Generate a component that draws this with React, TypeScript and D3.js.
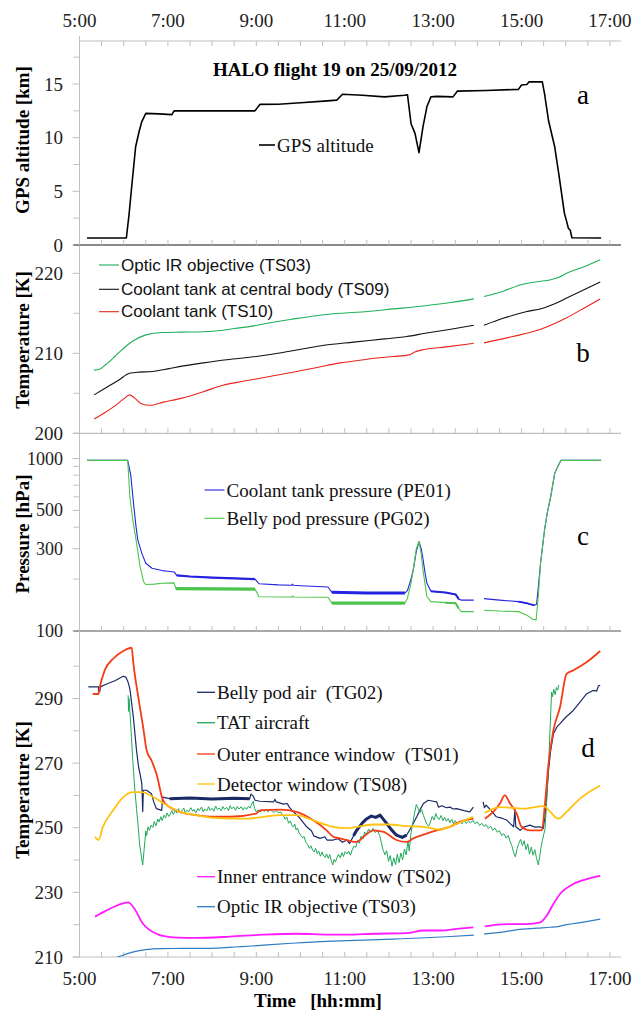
import React from "react";
import * as d3 from "d3";

type Pt = [number, number | null];

// ---------- tick labels ----------
const timeTickHours = [5, 7, 9, 11, 13, 15, 17];
const timeTickLabels = ["5:00", "7:00", "9:00", "11:00", "13:00", "15:00", "17:00"];
const altTicks = [0, 5, 10, 15];
const altMinor = [2.5, 7.5, 12.5, 17.5];
const tempBTicks = [200, 210, 220];
const tempBMinor = [205, 215];
const presTicks = [100, 300, 500, 1000];
const presMinor = [200, 400, 600, 700, 800, 900];
const tempDTicks = [210, 230, 250, 270, 290];
const tempDMinor = [220, 240, 260, 280, 300];

// ---------- panel a: GPS altitude [km] ----------
const gpsAltitude: Pt[] = [
  [5.17, 0.65], [6.06, 0.65], [6.12, 2.8], [6.18, 5.4], [6.27, 9.15], [6.35, 10.6], [6.41, 11.5], [6.5, 12.26],
  [6.8, 12.22], [7.09, 12.15], [7.14, 12.5], [8.97, 12.5], [9.08, 13.1], [9.5, 13.12], [10.0, 13.25],
  [10.53, 13.4], [10.82, 13.5], [10.95, 14.05], [11.4, 13.95], [11.9, 13.8], [12.35, 13.95], [12.42, 14.0],
  [12.5, 11.3], [12.59, 10.4], [12.68, 8.6], [12.77, 11.0], [12.86, 12.9], [12.95, 13.8], [13.09, 13.85],
  [13.45, 13.8], [13.55, 14.34], [14.2, 14.4], [14.93, 14.5], [15.0, 14.9], [15.12, 14.95], [15.17, 15.2],
  [15.47, 15.2], [15.52, 14.1], [15.61, 11.6], [15.75, 9.15], [15.84, 6.7], [15.97, 2.95], [16.02, 2.2],
  [16.06, 1.55], [16.1, 1.4], [16.14, 0.68], [16.8, 0.65],
];

// ---------- panel b / d: TS03, TS09, TS10 [K] ----------
const ts03: Pt[] = [
  [5.33, 207.9], [5.45, 208.0], [5.6, 208.6], [5.8, 209.6], [5.95, 210.4], [6.2, 211.5], [6.5, 212.3],
  [6.87, 212.6], [7.3, 212.65], [7.78, 212.7], [8.2, 212.85], [8.51, 213.1], [8.9, 213.4], [9.25, 213.75],
  [9.8, 214.25], [10.35, 214.7], [10.9, 215.0], [11.44, 215.2], [12.1, 215.55], [12.82, 215.95], [13.4, 216.35],
  [13.92, 216.8], [13.95, null], [14.15, 217.1], [14.6, 217.8], [15.01, 218.6], [15.35, 218.95], [15.66, 219.2],
  [15.85, 219.5], [16.02, 220.0], [16.4, 220.8], [16.78, 221.7],
];
const ts09: Pt[] = [
  [5.33, 204.8], [5.6, 205.7], [5.9, 206.7], [6.13, 207.5], [6.35, 207.65], [6.59, 207.7], [7.0, 208.05],
  [7.32, 208.4], [7.8, 208.8], [8.33, 209.2], [9.0, 209.6], [9.6, 210.1], [10.1, 210.6], [10.53, 211.0],
  [11.2, 211.4], [11.9, 211.8], [12.4, 212.1], [12.82, 212.5], [13.4, 213.0], [13.92, 213.5], [13.95, null],
  [14.15, 213.5], [14.6, 214.4], [15.1, 215.2], [15.46, 215.6], [15.75, 216.2], [16.02, 216.9], [16.4, 217.9],
  [16.78, 218.9],
];
const ts10: Pt[] = [
  [5.33, 201.8], [5.55, 202.5], [5.77, 203.3], [6.0, 204.3], [6.13, 204.8], [6.25, 204.4], [6.4, 203.7],
  [6.59, 203.5], [6.9, 203.9], [7.32, 204.4], [7.8, 205.2], [8.24, 206.0], [8.7, 206.5], [9.15, 206.95],
  [9.8, 207.6], [10.35, 208.2], [10.9, 208.8], [11.5, 209.25], [12.1, 209.6], [12.45, 209.8], [12.6, 210.2],
  [12.73, 210.4], [13.3, 210.8], [13.92, 211.25], [13.95, null], [14.15, 211.3], [14.8, 212.1], [15.38, 212.9],
  [15.7, 213.6], [16.02, 214.45], [16.4, 215.6], [16.78, 216.8],
];

// ---------- panel c: pressure [hPa] ----------
const pe01: Pt[] = [
  [5.17, 975], [6.09, 975], [6.16, 800], [6.23, 526], [6.28, 400], [6.32, 336], [6.41, 282], [6.5, 247],
  [6.64, 231], [6.87, 224], [7.0, 222], [7.14, 220], [7.2, 210], [7.5, 207], [8.0, 204], [8.5, 202], [8.97, 200],
  [9.06, 188], [9.5, 185], [9.8, 184], [9.82, 187], [9.84, 184], [10.0, 183], [10.62, 180], [10.71, 167.5],
  [11.5, 166], [12.36, 166], [12.42, 172],
  [12.5, 200], [12.55, 226], [12.62, 290], [12.68, 330], [12.73, 300], [12.77, 262], [12.82, 215], [12.86, 189],
  [12.95, 170], [13.28, 167], [13.51, 163], [13.58, 153], [13.64, 151], [13.92, 151], [13.95, null], [14.15, 154],
  [14.5, 151], [14.93, 148], [15.11, 145], [15.29, 141], [15.34, 143], [15.38, 180], [15.43, 247], [15.52, 385],
  [15.58, 480], [15.66, 601], [15.75, 820], [15.82, 900], [15.89, 975], [16.8, 975],
];
const pg02: Pt[] = [
  [5.17, 975], [6.09, 975], [6.14, 601], [6.2, 450], [6.28, 336], [6.37, 237], [6.45, 193], [6.5, 186],
  [6.69, 187], [6.87, 189], [7.14, 190], [7.18, 176], [8.97, 175], [9.06, 158], [9.8, 157.5], [9.82, 160],
  [9.84, 157.5], [10.62, 157], [10.71, 145],
  [12.36, 145], [12.42, 155], [12.5, 190], [12.55, 226], [12.62, 300], [12.68, 330], [12.73, 280], [12.77, 226],
  [12.82, 185], [12.86, 158], [12.95, 148], [13.28, 146], [13.51, 145], [13.58, 135], [13.64, 129.5],
  [13.92, 129.5], [13.95, null], [14.15, 132], [14.5, 130.5], [14.93, 129.5], [15.11, 124], [15.25, 117],
  [15.33, 116], [15.38, 160], [15.43, 247], [15.52, 385], [15.58, 480], [15.66, 601], [15.75, 820], [15.82, 900],
  [15.89, 975], [16.8, 975],
];

// ---------- panel d: temperatures [K] ----------
const tg02: Pt[] = [
  [5.2, 293.6], [5.43, 293.6], [5.43, 292.2], [5.46, 292.2], [5.47, 293.6], [5.6, 294.4], [5.8, 295.5],
  [5.99, 296.9], [6.05, 296.6], [6.1, 295], [6.14, 293], [6.18, 288.5], [6.22, 284], [6.29, 273.9], [6.34, 268.5],
  [6.37, 266.7], [6.41, 263.6], [6.43, 255], [6.445, 261.6], [6.52, 261.6], [6.58, 261], [6.63, 260.5],
  [6.68, 258], [6.74, 255.9], [6.86, 255.4], [6.88, 259.5], [7.04, 259], [7.5, 259.2], [8.0, 258.9],
  [8.5, 259.1], [8.85, 259], [8.88, 260.4], [8.93, 259.8], [8.97, 258.5], [9.08, 258.2], [9.39, 258],
  [9.42, 258.8], [9.45, 258], [9.61, 257.3], [9.7, 257.5], [9.75, 256.3], [9.84, 254.9], [9.95, 253.5],
  [10.05, 251.8], [10.14, 250.3], [10.25, 249], [10.3, 247.5], [10.44, 246.7], [10.55, 247.2], [10.6, 246.2],
  [10.74, 246.2], [10.85, 246.6], [10.95, 245.5], [11.05, 246.2], [11.11, 245.1], [11.2, 247.5], [11.27, 249.2],
  [11.4, 251.5], [11.5, 252.8], [11.6, 253.6], [11.7, 253.2], [11.8, 253.9], [11.88, 252.5], [11.95, 251.3],
  [12.05, 249.5], [12.17, 247.7], [12.3, 247], [12.4, 247.7], [12.51, 250.3], [12.63, 253.4], [12.72, 256],
  [12.78, 257.5], [12.89, 258.5], [13.0, 258.2], [13.08, 258], [13.12, 256.4], [13.2, 256.8], [13.3, 256.2],
  [13.38, 256.4], [13.45, 255.8], [13.53, 255.9], [13.7, 255.3], [13.83, 254.9], [13.91, 256.4], [13.95, null],
  [14.13, 258], [14.16, 256.2], [14.2, 257], [14.3, 255.5], [14.43, 253.4], [14.55, 253], [14.67, 252.3],
  [14.75, 251.2], [14.82, 250.3], [14.85, 255.5], [14.87, 250.3], [14.97, 249.2], [15.05, 250.2],
  [15.19, 250.8], [15.3, 250.2], [15.42, 250.3], [15.49, 249.7], [15.53, 253.4], [15.57, 260], [15.61, 267.7],
  [15.66, 274], [15.72, 279], [15.8, 281.2], [15.87, 282.2], [16.0, 284.2], [16.17, 286.3], [16.3, 288.5],
  [16.47, 291.4], [16.55, 292], [16.62, 292.5], [16.7, 292.3], [16.74, 293.9], [16.78, 294.1],
];
const tat: Pt[] = [
  [6.1, 291], [6.11, 286], [6.12, 290], [6.15, 284], [6.2, 272], [6.25, 262], [6.29, 256], [6.33, 250],
  [6.36, 245], [6.4, 241], [6.43, 238.5], [6.46, 243], [6.48, 246], [6.5, 249], [6.52, 247.6], [6.55, 250.3],
  [6.58, 249.2], [6.62, 250.8], [6.66, 250.1], [6.69, 251.9], [6.73, 250.6], [6.77, 252.7], [6.8, 251.8],
  [6.84, 253.4], [6.87, 252.2], [6.91, 253.9], [6.95, 253.1], [6.98, 254.6], [7.02, 253.5], [7.05, 254.2],
  [7.09, 255.3], [7.12, 254.1], [7.17, 255.4], [7.2, 254.6], [7.24, 255.9], [7.28, 254.5], [7.31, 255.1],
  [7.36, 256.1], [7.39, 254.7], [7.44, 255.5], [7.47, 254.9], [7.52, 256.2], [7.56, 255.1], [7.59, 255.7],
  [7.63, 254.6], [7.68, 256], [7.71, 255.3], [7.76, 256.4], [7.8, 254.9], [7.83, 255.8], [7.88, 255.2],
  [7.92, 256.5], [7.95, 255.4], [8.0, 256], [8.04, 255.1], [8.08, 256.7], [8.12, 255.6], [8.16, 256.1],
  [8.21, 255.2], [8.24, 256.6], [8.28, 255.7], [8.33, 256.3], [8.37, 255.3], [8.41, 256.8], [8.44, 255.9],
  [8.49, 256.4], [8.53, 255.4], [8.57, 256.6], [8.61, 255.8], [8.66, 256.5], [8.7, 255.5], [8.74, 256.3],
  [8.78, 255.7], [8.82, 256.6], [8.86, 256.1], [8.9, 257.5], [8.93, 258.2], [8.96, 256], [9.0, 254.9],
  [9.04, 255.5], [9.09, 254.8], [9.13, 255.7], [9.18, 255.1], [9.22, 255.6], [9.27, 254.9], [9.31, 255.8],
  [9.36, 255.2], [9.4, 254.7], [9.45, 255.4], [9.5, 254.6], [9.55, 254.9], [9.58, 254.1], [9.62, 253.6],
  [9.65, 252.6], [9.69, 253.3], [9.73, 251.4], [9.77, 252.1], [9.8, 250.9], [9.84, 250.2], [9.87, 251.1],
  [9.9, 249.3], [9.93, 249.9], [9.97, 248.4], [10.01, 247.5], [10.05, 246.9], [10.08, 247.3], [10.12, 245.5],
  [10.16, 244.9], [10.2, 243.6], [10.24, 244.4], [10.27, 243.1], [10.31, 242.5], [10.34, 243.6], [10.38, 242],
  [10.41, 242.8], [10.45, 241.2], [10.49, 242.5], [10.52, 241.3], [10.56, 240.8], [10.59, 241.9],
  [10.63, 240.5], [10.66, 241.7], [10.7, 239.6], [10.73, 238.5], [10.76, 240.2], [10.79, 239.4], [10.83, 240.9],
  [10.86, 241.8], [10.9, 240.7], [10.94, 242.3], [10.97, 241.1], [11.01, 242.6], [11.05, 241.9], [11.09, 242.7],
  [11.13, 241.5], [11.17, 243.2], [11.21, 244.3], [11.25, 243.9], [11.29, 246.1], [11.33, 245.2],
  [11.37, 247.4], [11.41, 246.5], [11.45, 248.7], [11.49, 247.9], [11.54, 249.6], [11.59, 248.6],
  [11.64, 249.8], [11.69, 248.5], [11.74, 249.2], [11.79, 247.6], [11.83, 245.3], [11.87, 243], [11.91, 241.7],
  [11.95, 242.9], [11.99, 239.6], [12.03, 241.4], [12.07, 238.1], [12.11, 240.7], [12.15, 238.6],
  [12.19, 241.8], [12.23, 239.2], [12.27, 242.2], [12.31, 240.1], [12.35, 243.4], [12.39, 241.6],
  [12.43, 245.8], [12.46, 242.8], [12.5, 248.5], [12.54, 251.5], [12.58, 254.5], [12.62, 257.2], [12.66, 256],
  [12.7, 254.6], [12.74, 255.6], [12.78, 253.8], [12.82, 252.4], [12.86, 251], [12.9, 250.5], [12.94, 251.8],
  [12.98, 253.5], [13.02, 252.4], [13.06, 254.4], [13.1, 253], [13.14, 252.6], [13.18, 253.8], [13.22, 252.2],
  [13.26, 253.2], [13.3, 252], [13.34, 252.8], [13.38, 251.6], [13.42, 252.6], [13.46, 251.3], [13.5, 252.2],
  [13.55, 251], [13.6, 252], [13.65, 251.2], [13.7, 252.4], [13.75, 251.3], [13.8, 252], [13.85, 251.5],
  [13.9, 252.3], [13.95, 251.2], [14.0, 251.8], [14.05, 250.7], [14.1, 251.4], [14.15, 250.4], [14.2, 251],
  [14.25, 249.8], [14.3, 250.5], [14.35, 249.2], [14.4, 249.9], [14.45, 248.6], [14.5, 249.1], [14.55, 247.6],
  [14.6, 248.2], [14.65, 246.8], [14.7, 247.6], [14.74, 245.8], [14.78, 244.5], [14.82, 242.4], [14.86, 241],
  [14.9, 243.6], [14.94, 245.2], [14.98, 246.4], [15.02, 244.5], [15.06, 246], [15.1, 243.2], [15.14, 245],
  [15.18, 241.8], [15.22, 244], [15.26, 241.5], [15.3, 243.2], [15.34, 240.5], [15.38, 238.5], [15.41, 241],
  [15.44, 243.8], [15.47, 246], [15.5, 247.8], [15.53, 249.5], [15.56, 256], [15.59, 264], [15.62, 272],
  [15.65, 282], [15.68, 292], [15.7, 290.5], [15.73, 292.8], [15.76, 291.2], [15.79, 293.4], [15.82, 292.6],
  [15.84, 294.2],
];
const ts01: Pt[] = [
  [5.3, 291.4], [5.43, 291.4], [5.46, 293.6], [5.57, 298.7], [5.76, 302.3], [5.99, 304.7], [6.18, 305.7],
  [6.22, 300.7], [6.33, 290.4], [6.44, 281.1], [6.52, 273.9], [6.63, 270.8], [6.74, 266.7], [6.89, 258.5],
  [7.04, 256.4], [7.27, 254.9], [7.64, 253.9], [8.03, 253.4], [8.4, 253.4], [9.0, 254.4], [9.08, 255.4],
  [9.54, 255.6], [9.91, 254.9], [10.29, 252.3], [10.59, 249.2], [10.74, 247.2], [10.89, 246.7], [11.05, 246.2],
  [11.27, 245.6], [11.45, 247.5], [11.65, 249.2], [11.88, 248.7], [12.17, 246.2], [12.4, 245.6], [12.55, 246.7],
  [12.85, 248.2], [13.08, 249.2], [13.38, 250.3], [13.6, 251.8], [13.91, 252.8], [13.95, null], [14.17, 252.8],
  [14.36, 254.9], [14.51, 257.5], [14.62, 260], [14.74, 257.5], [14.89, 254.4], [15.0, 250.3], [15.19, 249.2],
  [15.46, 249.2], [15.53, 257.5], [15.61, 269.8], [15.72, 280.1], [15.87, 287.3], [16.02, 297.6], [16.17, 298.7],
  [16.47, 301.2], [16.78, 304.7],
];
const ts08: Pt[] = [
  [5.35, 247.2], [5.43, 246.2], [5.53, 250.3], [5.76, 255.4], [5.99, 259.5], [6.22, 261], [6.41, 261],
  [6.67, 259.5], [6.97, 257], [7.27, 254.9], [7.64, 253.9], [8.03, 253.1], [8.78, 252.8], [9.54, 253.9],
  [9.91, 253.9], [10.29, 252.3], [10.74, 250.3], [11.05, 249.9], [11.65, 251], [12.0, 251], [12.4, 250.5],
  [12.78, 250.3], [13.15, 249.4], [13.45, 250.8], [13.91, 253.4], [13.95, null], [14.17, 254.6], [14.51, 256.4],
  [15.04, 255.9], [15.5, 256.7], [15.65, 254.9], [15.83, 252.8], [16.02, 254.9], [16.32, 259], [16.78, 263.1],
];
const ts02: Pt[] = [
  [5.35, 222.5], [5.46, 223.3], [5.76, 225.4], [6.1, 226.9], [6.22, 225.4], [6.44, 220.2], [6.74, 217.2],
  [7.12, 216.1], [7.64, 215.9], [8.4, 216.3], [9.16, 216.9], [9.91, 217.2], [10.66, 216.9], [11.05, 216.9],
  [11.65, 217.2], [12.4, 217.4], [12.78, 218.2], [13.15, 218.2], [13.53, 218.7], [13.91, 219.2], [13.95, null],
  [14.17, 219.5], [14.67, 220.2], [15.12, 220.2], [15.42, 220.7], [15.57, 222.8], [15.72, 226.4], [15.87, 229.5],
  [16.17, 232.6], [16.5, 234.2], [16.78, 235.1],
];

// ---------- legends ----------
const legendA = ["GPS altitude"];
const legendB = ["Optic IR objective (TS03)", "Coolant tank at central body (TS09)", "Coolant tank (TS10)"];
const legendC = ["Coolant tank pressure (PE01)", "Belly pod pressure (PG02)"];
const legendD1 = ["Belly pod air  (TG02)", "TAT aircraft", "Outer entrance window  (TS01)", "Detector window (TS08)"];
const legendD2 = ["Inner entrance window (TS02)", "Optic IR objective (TS03)"];

const SERIF = "'Liberation Serif', 'Times New Roman', serif";
const SANS = "'Liberation Sans', Arial, sans-serif";

export default function App() {
  const x = d3.scaleLinear().domain([5, 17.25]).range([79.5, 621]);
  const yA = d3.scaleLinear().domain([0, 15]).range([245, 84]);
  const yB = d3.scaleLinear().domain([200, 220]).range([433.3, 273.3]);
  const yC = d3.scaleLog().domain([100, 1000]).range([631, 458.5]);
  const yD = d3.scaleLinear().domain([210, 290]).range([957, 698.5]);

  const xL = 79.5;
  const xR = 621;
  const halfHours = d3.range(5, 17.001, 0.5);

  const panels = [
    { id: "a", top: 36, bottom: 245, y: yA },
    { id: "b", top: 246, bottom: 433.3, y: yB },
    { id: "c", top: 433.3, bottom: 631, y: yC },
    { id: "d", top: 631, bottom: 957, y: yD },
  ];

  const lineGen = (ys: any, curve: any = d3.curveLinear) =>
    d3
      .line<Pt>()
      .defined((d) => d[1] != null)
      .x((d) => x(d[0]))
      .y((d) => ys(d[1] as number))
      .curve(curve);

  const sub = (data: Pt[], t0: number, t1: number) => data.filter((d) => d[0] >= t0 && d[0] <= t1);

  const path = (data: Pt[], ys: any, color: string, width: number, clip: string, curve: any = d3.curveLinear, key?: string) => (
    <path
      key={key}
      d={lineGen(ys, curve)(data) || ""}
      fill="none"
      stroke={color}
      strokeWidth={width}
      strokeLinejoin="round"
      clipPath={`url(#clip-${clip})`}
    />
  );

  const yAxis = (ys: any, ticks: number[], minor: number[], top: number, bottom: number, fontSize: number) => (
    <g>
      <line x1={xL} x2={xL} y1={top} y2={bottom} stroke="#bfbfbf" strokeWidth={1} />
      {minor.map((v) => (ys(v) > top - 1 ? <line key={"m" + v} x1={xL - 6} x2={xL} y1={ys(v)} y2={ys(v)} stroke="#bfbfbf" /> : null))}
      {ticks.map((v) => (
        <g key={"t" + v}>
          <line x1={xL - 7} x2={xL} y1={ys(v)} y2={ys(v)} stroke="#bfbfbf" />
          <text x={63} y={ys(v)} textAnchor="end" dominantBaseline="central" fontFamily={SERIF} fontSize={fontSize} fill="#222">
            {String(v)}
          </text>
        </g>
      ))}
    </g>
  );

  const xAxisLine = (yPos: number, color: string, width: number, dir: number) => (
    <g>
      <line x1={xL - 6} x2={xR} y1={yPos} y2={yPos} stroke={color} strokeWidth={width} />
      {halfHours.map((h) => (
        <line key={h} x1={x(h)} x2={x(h)} y1={yPos} y2={yPos + dir * 5} stroke="#bfbfbf" />
      ))}
    </g>
  );

  const legendItem = (label: string, color: string, lx: number, ly: number, font: string, size: number, lineLen: number, width: number, key: string) => (
    <g key={key}>
      <line x1={lx} x2={lx + lineLen} y1={ly} y2={ly} stroke={color} strokeWidth={width} />
      <text x={lx + lineLen + 2} y={ly} dominantBaseline="central" fontFamily={font} fontSize={size} fill="#111" style={{ whiteSpace: "pre" }}>
        {label}
      </text>
    </g>
  );

  const colB = ["#1daf5a", "#111111", "#e8241c"];
  const colC = ["#2424e0", "#4cc44c"];
  const colD1 = ["#1a2a66", "#1fa85a", "#f53c16", "#ffc20e"];
  const colD2 = ["#ff1aff", "#2e7cc4"];

  return (
    <svg width={633} height={1012} viewBox="0 0 633 1012" style={{ display: "block", position: "absolute", left: 0, top: 0, background: "#fff" }}>
      <defs>
        {panels.map((p) => (
          <clipPath key={p.id} id={`clip-${p.id}`}>
            <rect x={xL} y={p.top} width={xR - xL} height={p.bottom - p.top} />
          </clipPath>
        ))}
      </defs>
      <rect x={0} y={0} width={633} height={1012} fill="#fff" />

      {/* top time axis */}
      <line x1={xL} x2={xR} y1={41} y2={41} stroke="#bfbfbf" />
      {halfHours.map((h) => (
        <line key={"tt" + h} x1={x(h)} x2={x(h)} y1={41} y2={46} stroke="#bfbfbf" />
      ))}
      {timeTickHours.map((h, i) => (
        <text key={"tl" + h} x={x(h)} y={27} textAnchor="middle" fontFamily={SERIF} fontSize={19} fill="#222">
          {timeTickLabels[i]}
        </text>
      ))}

      {/* panel a */}
      {yAxis(yA, altTicks, altMinor, 36, 245, 19)}
      {xAxisLine(245, "#8a8a8a", 1.8, -1)}
      {path(gpsAltitude, yA, "#000", 1.6, "a")}
      <text x={335} y={76} textAnchor="middle" fontFamily={SERIF} fontWeight="bold" fontSize={19}>
        HALO flight 19 on 25/09/2012
      </text>
      {legendItem(legendA[0], "#000", 259, 145, SERIF, 19, 16, 1.6, "la")}
      <text x={583} y={104} textAnchor="middle" fontFamily={SERIF} fontSize={27}>a</text>
      <text transform="translate(22,140) rotate(-90)" textAnchor="middle" dominantBaseline="central" fontFamily={SERIF} fontWeight="bold" fontSize={19}>
        GPS altitude [km]
      </text>

      {/* panel b */}
      {yAxis(yB, tempBTicks, tempBMinor, 246, 433.3, 19)}
      {xAxisLine(433.3, "#bfbfbf", 1.2, -1)}
      {[ts03, ts09, ts10].map((d, i) => path(d, yB, colB[i], 1.1, "b", d3.curveMonotoneX, "b" + i))}
      {legendB.map((l, i) => legendItem(l, colB[i], 99, [265, 289.3, 311.7][i], SANS, 17, 20, 1.1, "lb" + i))}
      <text x={583} y={362} textAnchor="middle" fontFamily={SERIF} fontSize={27}>b</text>
      <text transform="translate(22,340) rotate(-90)" textAnchor="middle" dominantBaseline="central" fontFamily={SERIF} fontWeight="bold" fontSize={19}>
        Temperature [K]
      </text>

      {/* panel c */}
      {yAxis(yC, presTicks, presMinor, 433.3, 631, 18)}
      {xAxisLine(631, "#8a8a8a", 1.5, -1)}
      {path(pe01, yC, colC[0], 1.1, "c", d3.curveLinear, "pe")}
      {[[7.2, 8.97, 2.2], [10.71, 12.36, 3.0], [12.95, 13.6, 2.0], [14.9, 15.3, 1.8]].map(([t0, t1, w], i) =>
        path(sub(pe01, t0, t1), yC, colC[0], w, "c", d3.curveLinear, "peT" + i)
      )}
      {path(pg02, yC, colC[1], 1.1, "c", d3.curveLinear, "pg")}
      {[[7.18, 8.97, 3.2], [10.71, 12.36, 3.2], [13.28, 13.58, 2.0]].map(([t0, t1, w], i) =>
        path(sub(pg02, t0, t1), yC, colC[1], w, "c", d3.curveLinear, "pgT" + i)
      )}
      {legendC.map((l, i) => legendItem(l, colC[i], 204.5, [490, 518.3][i], SERIF, 19, 20, 1.1, "lc" + i))}
      <text x={583} y={545} textAnchor="middle" fontFamily={SERIF} fontSize={27}>c</text>
      <text transform="translate(22,534) rotate(-90)" textAnchor="middle" dominantBaseline="central" fontFamily={SERIF} fontWeight="bold" fontSize={19}>
        Pressure [hPa]
      </text>

      {/* panel d */}
      {yAxis(yD, tempDTicks, tempDMinor, 631, 957, 19)}
      {xAxisLine(957, "#bfbfbf", 1.2, -1)}
      {path(tg02, yD, colD1[0], 1.2, "d", d3.curveLinear, "tg")}
      {[[7.04, 8.85, 3], [11.2, 12.5, 3]].map(([t0, t1, w], i) => path(sub(tg02, t0, t1), yD, colD1[0], w, "d", d3.curveLinear, "tgT" + i))}
      {path(tat, yD, colD1[1], 1, "d", d3.curveLinear, "tat")}
      {path(ts01, yD, colD1[2], 1.8, "d", d3.curveMonotoneX, "ts01")}
      {path(ts08, yD, colD1[3], 1.8, "d", d3.curveMonotoneX, "ts08")}
      {path(ts02, yD, colD2[0], 1.8, "d", d3.curveMonotoneX, "ts02")}
      {path(ts03, yD, colD2[1], 1.2, "d", d3.curveMonotoneX, "ts03d")}
      {legendD1.map((l, i) => legendItem(l, colD1[i], 197, [692.3, 722.7, 754, 784][i], SERIF, 19, 18, 1.3, "ld" + i))}
      {legendD2.map((l, i) => legendItem(l, colD2[i], 197, [876.7, 906.7][i], SERIF, 19, 18, 1.3, "ld2" + i))}
      <text x={588} y={757} textAnchor="middle" fontFamily={SERIF} fontSize={27}>d</text>
      <text transform="translate(22,790) rotate(-90)" textAnchor="middle" dominantBaseline="central" fontFamily={SERIF} fontWeight="bold" fontSize={19}>
        Temperature [K]
      </text>

      {/* bottom time labels */}
      {timeTickHours.map((h, i) => (
        <text key={"bl" + h} x={x(h)} y={985} textAnchor="middle" fontFamily={SERIF} fontSize={19} fill="#222">
          {timeTickLabels[i]}
        </text>
      ))}
      <text x={318} y={1007} textAnchor="middle" fontFamily={SERIF} fontWeight="bold" fontSize={19} style={{ whiteSpace: "pre" }}>
        Time   [hh:mm]
      </text>
    </svg>
  );
}
